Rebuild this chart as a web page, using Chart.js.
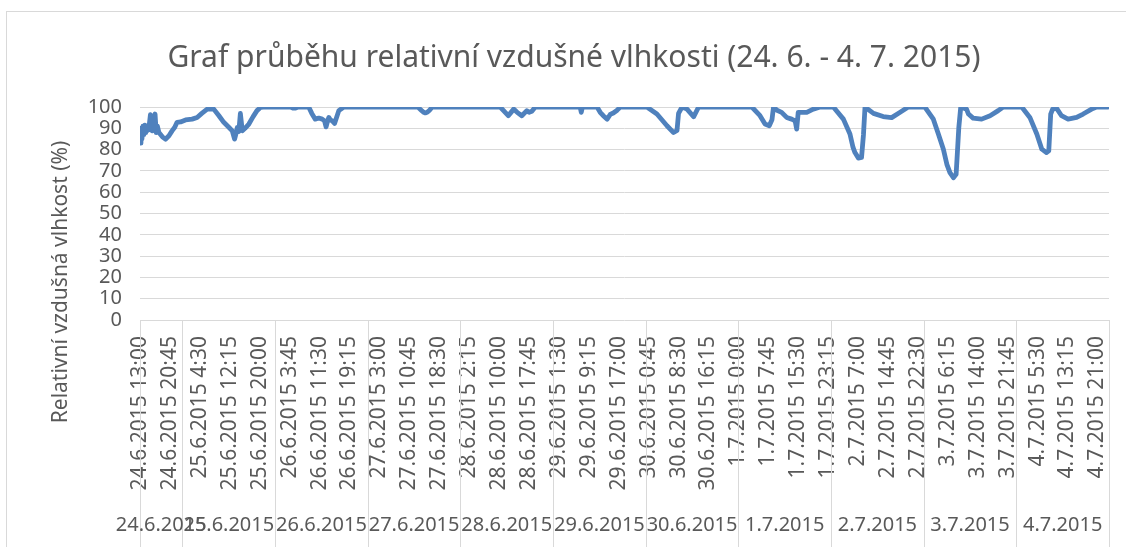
<!DOCTYPE html>
<html lang="cs">
<head>
<meta charset="UTF-8">
<title>Graf průběhu relativní vzdušné vlhkosti</title>
<script src="https://cdn.jsdelivr.net/npm/chart.js"></script>
<style>
    html, body { margin: 0; padding: 0; background: #fff; overflow: hidden; }
    .ramecek { position: absolute; left: 6px; top: 11px; width: 1130px; height: 550px; border: 1px solid #d9d9d9; }
    .obal { position: absolute; left: 0; top: 0; }
</style>
</head>
<body>
<div class="ramecek"></div>
<div class="obal"><canvas id="graf" width="1126" height="547"></canvas></div>
<script>
    // čas měření v hodinách od 24.6.2015 0:00
    const hodiny = [
        13.0, 13.25, 13.5, 13.75, 14.0, 14.25, 14.5, 14.75, 15.0, 15.3, 15.7, 16.0, 16.2, 16.6, 16.9, 17.2, 17.5, 17.9,
        18.8, 19.6, 20.5, 21.3, 22.0, 22.6, 23.5, 24.8, 26.5, 27.8, 29.0, 30.4, 32.1, 33.4, 34.7, 36.0, 36.9, 37.5,
        37.8, 38.2, 38.6, 39.0, 39.5, 40.2, 41.2, 42.3, 43.3, 44.2, 45.0, 52.0, 52.6, 53.3, 54.0,
        56.7, 57.5, 58.4, 59.3, 60.2, 60.8, 61.2, 61.6, 61.9, 62.3, 62.8, 63.4, 64.0, 64.5, 65.8,
        85.0, 85.8, 86.5, 86.9, 87.4, 88.0, 88.7,
        106.3, 107.6, 108.4, 108.9, 109.8, 110.7, 111.9, 113.2, 113.8, 114.5, 115.4,
        127.0, 127.3, 127.6, 131.4, 132.2, 133.0, 134.0, 134.8, 135.6, 136.6, 137.4,
        144.3, 146.9, 149.5, 151.2, 152.1, 152.5, 153.4, 154.7, 156.4, 157.7,
        171.5, 173.6, 174.9, 176.0, 176.7, 177.1, 178.0, 179.2, 180.5, 181.8, 182.7, 183.1, 183.5, 185.7, 187.4, 189.2,
        192.6, 195.2, 196.9, 197.7, 198.2, 199.1, 199.9, 200.4, 200.8, 203.0, 205.5, 207.7, 209.9, 212.0,
        216.3, 218.5, 219.8, 221.1, 222.0, 222.8, 223.7, 224.4, 224.7, 225.1, 225.6, 227.1, 227.6, 228.8, 231.0,
        233.2, 235.3, 236.6,
        241.4, 243.5, 245.3, 246.6, 247.8, 248.4, 248.9, 249.4, 250.4, 251.7, 253.4, 255.6, 257.3, 259.5, 260.8, 263.75
    ];

    // relativní vlhkost (%)
    const vlhkost = [
        83, 90, 85, 91, 87, 91.5, 88, 91, 89, 90, 96.4, 89, 88.8, 94, 96.7, 88, 91, 88,
        86, 84.9, 86.5, 88.8, 90.5, 92.8, 93, 93.9, 94.3, 95.1, 97, 99, 99, 96, 92.8, 90.5, 88.8, 84.9,
        87, 90.4, 88.5, 97, 88.8, 90, 92, 95.5, 98.3, 99.8, 100, 100, 99.5, 99.5, 100,
        100, 97, 94.3, 94.8, 94.3, 93.5, 90.7, 93.5, 95.1, 94, 93.5, 92.3, 95.5, 98.3, 100,
        100, 98.5, 97.5, 97.2, 97.5, 98.5, 100,
        100, 97.5, 95.9, 97, 99, 97.5, 95.9, 98.3, 97.5, 98, 100,
        100, 97.5, 100, 100, 97.5, 95.9, 94.3, 96.5, 97.2, 98.5, 100,
        100, 96.7, 91.2, 88, 89, 97, 100, 99, 95.4, 100,
        100, 95.9, 92, 91.2, 94, 100, 98.5, 97.5, 95.1, 94.3, 93.5, 89.6, 97.5, 97.5, 99, 100,
        100, 94.3, 87.3, 81, 78.6, 76, 76.3, 87, 100, 97, 95.5, 95, 97.5, 100,
        100, 94.3, 87.3, 80.2, 73.1, 69.2, 66.8, 68.4, 77.8, 90.4, 100, 99, 96.7, 94.8, 94.3,
        95.9, 98.3, 100,
        100, 95.1, 87.3, 80.2, 78.6, 79.4, 96.7, 99, 99.5, 95.9, 94.3, 95.1, 96.7, 99, 100, 100
    ];

    const popiskyCasu = [
        '24.6.2015 13:00', '24.6.2015 20:45', '25.6.2015 4:30', '25.6.2015 12:15', '25.6.2015 20:00',
        '26.6.2015 3:45', '26.6.2015 11:30', '26.6.2015 19:15', '27.6.2015 3:00', '27.6.2015 10:45',
        '27.6.2015 18:30', '28.6.2015 2:15', '28.6.2015 10:00', '28.6.2015 17:45', '29.6.2015 1:30',
        '29.6.2015 9:15', '29.6.2015 17:00', '30.6.2015 0:45', '30.6.2015 8:30', '30.6.2015 16:15',
        '1.7.2015 0:00', '1.7.2015 7:45', '1.7.2015 15:30', '1.7.2015 23:15', '2.7.2015 7:00',
        '2.7.2015 14:45', '2.7.2015 22:30', '3.7.2015 6:15', '3.7.2015 14:00', '3.7.2015 21:45',
        '4.7.2015 5:30', '4.7.2015 13:15', '4.7.2015 21:00'
    ];

    const dny = ['24.6.2015', '25.6.2015', '26.6.2015', '27.6.2015', '28.6.2015', '29.6.2015',
                 '30.6.2015', '1.7.2015', '2.7.2015', '3.7.2015', '4.7.2015'];

    const nadpis = 'Graf průběhu relativní vzdušné vlhkosti (24. 6. - 4. 7. 2015)';
    const popisOsyY = 'Relativní vzdušná vlhkost (%)';

    const pismo = '"Noto Sans", "Open Sans", sans-serif';
    const sedaText = '#595959';
    const sedaMrizka = '#d9d9d9';

    // "d.m.rrrr h:mm" -> hodiny od 24.6.2015 0:00
    function naHodiny(text) {
        const [datum, cas] = text.split(' ');
        const [d, m] = datum.split('.').map(Number);
        const [h, min] = (cas || '0:00').split(':').map(Number);
        const den = m === 6 ? d - 24 : d + 6;
        return den * 24 + h + min / 60;
    }

    const polohyPopisku = popiskyCasu.map(naHodiny);

    // popisky dnů, dělicí čáry a popis osy Y
    const osaDnu = {
        id: 'osaDnu',
        afterDraw(chart) {
            const { ctx, chartArea } = chart;
            const x = chart.scales.x;
            const hrany = dny.map((d, i) => i === 0 ? x.min : naHodiny(d)).concat([x.max]);
            const px = hrany.map(h => x.getPixelForValue(h));

            ctx.save();
            ctx.strokeStyle = sedaMrizka;
            ctx.lineWidth = 1;
            px.forEach(p => {
                const xx = Math.round(p) + 0.5;
                ctx.beginPath();
                ctx.moveTo(xx, chartArea.bottom);
                ctx.lineTo(xx, chart.height);
                ctx.stroke();
            });

            ctx.fillStyle = sedaText;
            ctx.font = '20px ' + pismo;
            ctx.textAlign = 'center';
            ctx.textBaseline = 'middle';
            dny.forEach((d, i) => {
                ctx.fillText(d, (px[i] + px[i + 1]) / 2, 525);
            });

            ctx.font = '21px ' + pismo;
            ctx.translate(61, 282);
            ctx.rotate(-Math.PI / 2);
            ctx.fillText(popisOsyY, 0, 0);
            ctx.restore();
        }
    };

    new Chart(document.getElementById('graf'), {
        type: 'line',
        data: {
            datasets: [{
                data: hodiny.map((h, i) => ({ x: h, y: vlhkost[i] })),
                borderColor: '#4f81bd',
                borderWidth: 4.8,
                borderJoinStyle: 'round',
                borderCapStyle: 'round',
                pointRadius: 0,
                tension: 0
            }]
        },
        options: {
            responsive: false,
            animation: false,
            layout: { padding: { left: 39, right: 17, top: 0, bottom: 0 } },
            plugins: {
                legend: { display: false },
                tooltip: { enabled: false },
                title: {
                    display: true,
                    text: nadpis,
                    color: sedaText,
                    font: { family: pismo, size: 30, weight: 'normal' },
                    padding: { top: 40, bottom: 31 }
                }
            },
            scales: {
                x: {
                    type: 'linear',
                    min: 13,
                    max: 264,
                    grid: { display: false, drawTicks: false },
                    border: { display: false },
                    afterBuildTicks: s => { s.ticks = polohyPopisku.map(v => ({ value: v })); },
                    afterFit: s => {
                        s.height = 227;
                        s.paddingLeft = 0;
                        s.paddingRight = 0;
                    },
                    ticks: {
                        autoSkip: false,
                        minRotation: 90,
                        maxRotation: 90,
                        padding: 16,
                        color: sedaText,
                        font: { family: pismo, size: 21 },
                        callback: (v, i) => popiskyCasu[i]
                    }
                },
                y: {
                    min: 0,
                    max: 100,
                    afterFit: s => { s.width = 101; },
                    grid: { color: sedaMrizka, drawTicks: false },
                    border: { display: false },
                    ticks: {
                        stepSize: 10,
                        autoSkip: false,
                        padding: 18,
                        color: sedaText,
                        font: { family: pismo, size: 20 }
                    }
                }
            }
        },
        plugins: [osaDnu]
    });
</script>
</body>
</html>
